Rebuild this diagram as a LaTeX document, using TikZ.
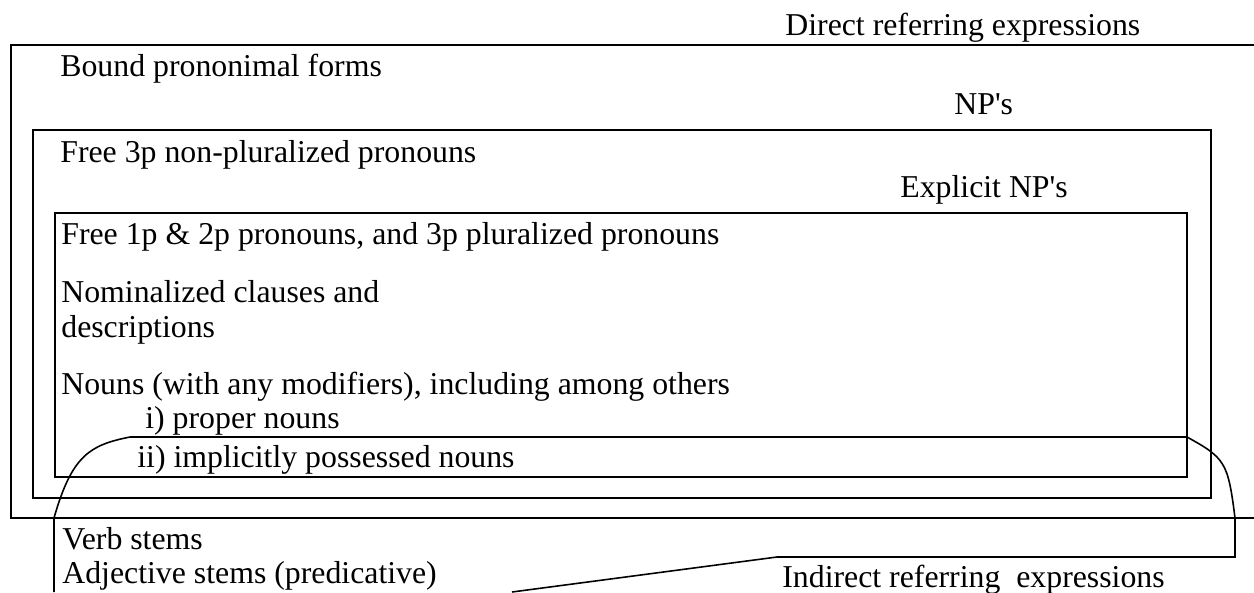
\documentclass[tikz,border=0pt]{standalone}
\usepackage{fontspec}
\setmainfont{Liberation Serif}
\usepackage{tikz}

\tikzset{lbl/.style={anchor=base west, inner sep=0pt, font=\fontsize{18.1}{20}\selectfont}}

\begin{document}
\begin{tikzpicture}[x=0.02cm, y=-0.02cm]
            \useasboundingbox (0, 0) rectangle (1254, 592);
            \draw[black, line width=1.1pt] (1254, 45) -- (11, 45) -- (11, 518) -- (1254, 518);
            \draw[black, line width=1.1pt] (33, 130) rectangle (1211, 498);
            \draw[black, line width=0.9pt] (55, 213) rectangle (1187, 477);
            \draw[black, line width=0.9pt] (54, 592) -- (54, 518) .. controls (72, 455) and (90, 445) .. (130, 437) -- (1187, 437) .. controls (1225, 458) and (1228, 462) .. (1235, 518) -- (1235, 557) -- (777, 557) -- (512, 592);
            \node[lbl] (direct) at (785, 35) {Direct referring expressions};
            \node[lbl] (bound) at (60, 76) {Bound prononimal forms};
            \node[lbl] (nps) at (954, 114) {NP\textquotesingle s};
            \node[lbl] (free3p) at (60, 162) {Free 3p non-pluralized pronouns};
            \node[lbl] (explicit) at (900, 197) {Explicit NP\textquotesingle s};
            \node[lbl] (free12p) at (61, 244) {Free 1p \& 2p pronouns, and 3p pluralized pronouns};
            \node[lbl] (nominal) at (61, 302) {Nominalized clauses and};
            \node[lbl] (descr) at (61, 337) {descriptions};
            \node[lbl] (nouns) at (61, 394) {Nouns (with any modifiers), including among others};
            \node[lbl] (proper) at (145, 428) {i) proper nouns};
            \node[lbl] (possessed) at (137, 467) {ii) implicitly possessed nouns};
            \node[lbl] (verb) at (62, 549) {Verb stems};
            \node[lbl] (adj) at (62, 583) {Adjective stems (predicative)};
            \node[lbl] (indirect) at (782, 587) {Indirect referring~ expressions};
        \end{tikzpicture}
\end{document}
